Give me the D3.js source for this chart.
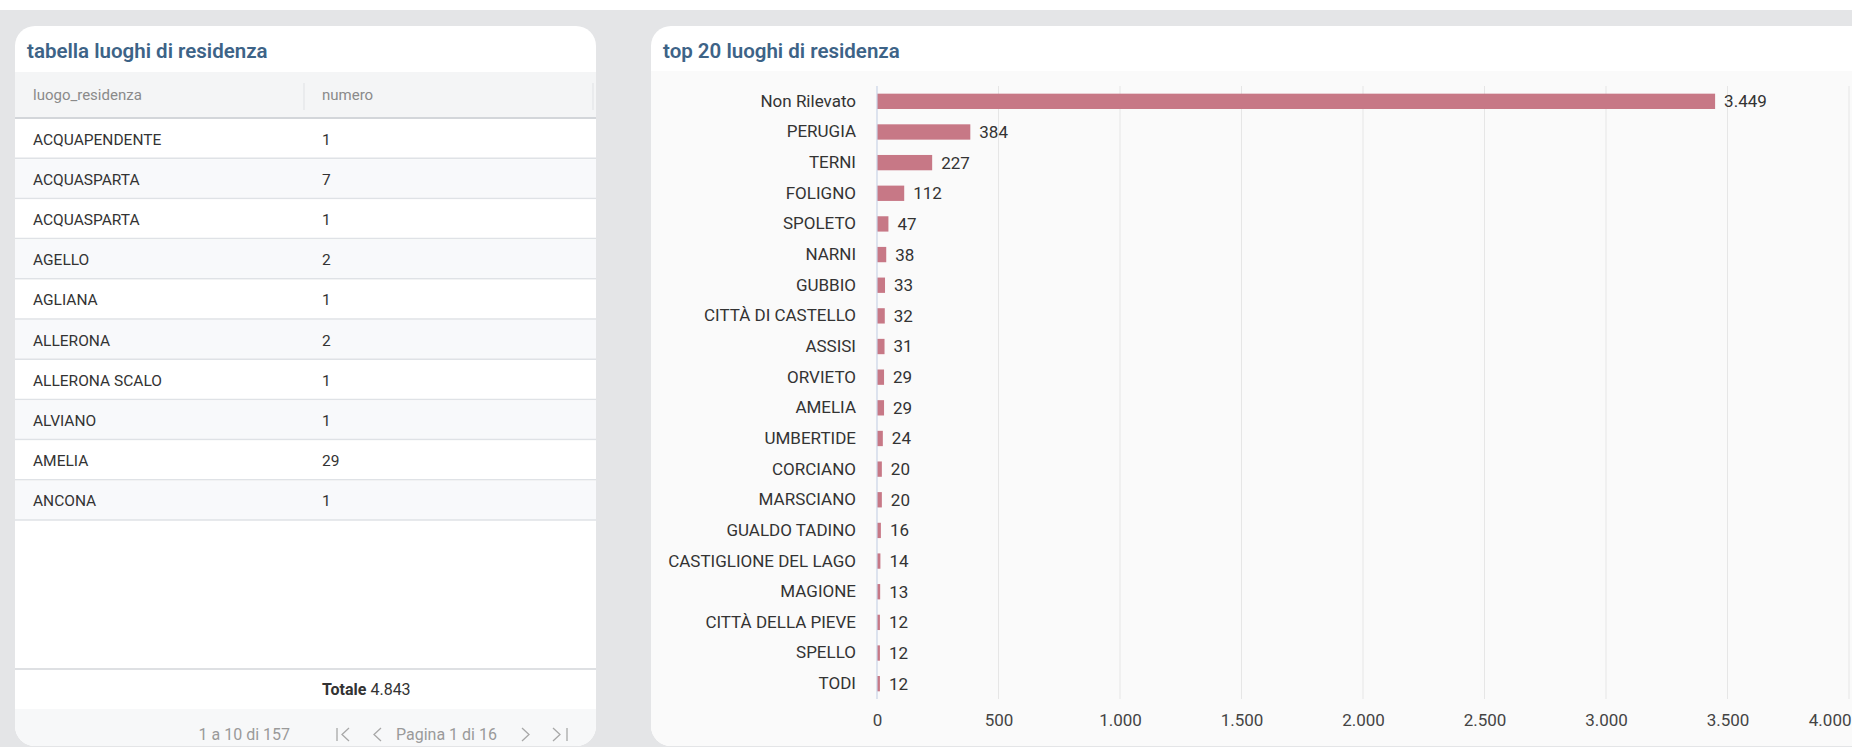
<!DOCTYPE html>
<html>
<head>
<meta charset="utf-8">
<script src="https://cdn.jsdelivr.net/npm/d3@7"></script>
<style>
  html, body { margin: 0; padding: 0; background: #ffffff; }
  svg { display: block; font-family: Roboto, "Noto Sans", sans-serif; }
</style>
</head>
<body>
<svg id="dash" width="1852" height="747"></svg>
<script>
// ---- table: luoghi di residenza (page 1) ----
const tableNames = ["ACQUAPENDENTE", "ACQUASPARTA", "ACQUASPARTA", "AGELLO", "AGLIANA",
  "ALLERONA", "ALLERONA SCALO", "ALVIANO", "AMELIA", "ANCONA"];
const tableValues = [1, 7, 1, 2, 1, 2, 1, 1, 29, 1];
const tableColumns = ["luogo_residenza", "numero"];
const tableTotal = 4843;
const pagerRange = "1 a 10 di 157";
const pagerPage = "Pagina 1 di 16";

// ---- bar chart: top 20 luoghi di residenza ----
const categories = ["Non Rilevato", "PERUGIA", "TERNI", "FOLIGNO", "SPOLETO", "NARNI", "GUBBIO",
  "CITTÀ DI CASTELLO", "ASSISI", "ORVIETO", "AMELIA", "UMBERTIDE", "CORCIANO", "MARSCIANO",
  "GUALDO TADINO", "CASTIGLIONE DEL LAGO", "MAGIONE", "CITTÀ DELLA PIEVE", "SPELLO", "TODI"];
const values = [3449, 384, 227, 112, 47, 38, 33, 32, 31, 29, 29, 24, 20, 20, 16, 14, 13, 12, 12, 12];
const xTicks = [0, 500, 1000, 1500, 2000, 2500, 3000, 3500, 4000];

const it = d3.formatLocale({ decimal: ",", thousands: ".", grouping: [3], currency: ["€", ""] });
const fmt = it.format(",d");

const svg = d3.select("#dash");
const W = 1852, H = 747;

// page background
svg.append("rect").attr("x", 0).attr("y", 0).attr("width", W).attr("height", H).attr("fill", "#ffffff");
svg.append("rect").attr("x", 0).attr("y", 10).attr("width", W).attr("height", H - 10).attr("fill", "#e4e5e7");

// rounded card helper
function card(x, y, w, h, r) {
  return svg.append("rect").attr("x", x).attr("y", y).attr("width", w).attr("height", h)
    .attr("rx", r).attr("ry", r).attr("fill", "#ffffff");
}

// ================= left card: table =================
const L = { x: 15, y: 26, w: 581, h: 720 };
card(L.x, L.y, L.w, L.h, 20);

svg.append("text").attr("x", 27).attr("y", 51).attr("dy", "0.35em")
  .attr("font-size", 20.5).attr("font-weight", 600).attr("fill", "#3d6387")
  .text("tabella luoghi di residenza");

const colX = [33, 322];
const headTop = 72, headBottom = 118, rowH = 40.2;

svg.append("rect").attr("x", L.x).attr("y", headTop).attr("width", L.w).attr("height", headBottom - headTop)
  .attr("fill", "#f4f5f6");
svg.selectAll("text.head").data(tableColumns).join("text").attr("class", "head")
  .attr("x", (d, i) => colX[i]).attr("y", 95).attr("dy", "0.35em")
  .attr("font-size", 15).attr("fill", "#8a8a8a").text(d => d);
svg.selectAll("line.colsep").data([304, 593]).join("line").attr("class", "colsep")
  .attr("x1", d => d).attr("x2", d => d).attr("y1", 83).attr("y2", 110)
  .attr("stroke", "#dfe1e4").attr("stroke-width", 1);
svg.append("line").attr("x1", L.x).attr("x2", L.x + L.w).attr("y1", headBottom).attr("y2", headBottom)
  .attr("stroke", "#d3d6da").attr("stroke-width", 2);

const rows = svg.selectAll("g.row").data(tableNames).join("g").attr("class", "row")
  .attr("transform", (d, i) => `translate(0,${headBottom + i * rowH})`);
rows.append("rect").attr("x", L.x).attr("y", 1).attr("width", L.w).attr("height", rowH - 1)
  .attr("fill", (d, i) => i % 2 ? "#f8f9fb" : "#ffffff");
rows.append("line").attr("x1", L.x).attr("x2", L.x + L.w).attr("y1", rowH).attr("y2", rowH)
  .attr("stroke", "#dfe2e6").attr("stroke-width", 1.5);
rows.append("text").attr("x", colX[0]).attr("y", rowH / 2 + 1).attr("dy", "0.35em")
  .attr("font-size", 15.5).attr("fill", "#333333").text(d => d);
rows.append("text").attr("x", colX[1]).attr("y", rowH / 2 + 1).attr("dy", "0.35em")
  .attr("font-size", 15.5).attr("fill", "#333333").text((d, i) => fmt(tableValues[i]));

// total row
svg.append("line").attr("x1", L.x).attr("x2", L.x + L.w).attr("y1", 669).attr("y2", 669)
  .attr("stroke", "#d3d6da").attr("stroke-width", 1.5);
const tot = svg.append("text").attr("x", colX[1]).attr("y", 689).attr("dy", "0.35em")
  .attr("font-size", 16).attr("fill", "#333333");
tot.append("tspan").attr("font-weight", 700).text("Totale");
tot.append("tspan").text(" " + fmt(tableTotal));

// pager
const clipL = svg.append("clipPath").attr("id", "clipL");
clipL.append("rect").attr("x", L.x).attr("y", L.y).attr("width", L.w).attr("height", L.h)
  .attr("rx", 20).attr("ry", 20);
svg.append("rect").attr("x", L.x).attr("y", 709).attr("width", L.w).attr("height", H - 709)
  .attr("fill", "#f7f8f9").attr("clip-path", "url(#clipL)");
svg.append("text").attr("x", 290).attr("y", 734).attr("dy", "0.35em").attr("text-anchor", "end")
  .attr("font-size", 16).attr("fill", "#9a9a9a").text(pagerRange);
svg.append("text").attr("x", 396).attr("y", 734).attr("dy", "0.35em")
  .attr("font-size", 16).attr("fill", "#9a9a9a").text(pagerPage);
const pagerIcons = [
  "M337,728V741 M349,728L342,734.5L349,741",
  "M381,728L374,734.5L381,741",
  "M522,728L529,734.5L522,741",
  "M553,728L560,734.5L553,741 M567,728V741"
];
svg.selectAll("path.pager").data(pagerIcons).join("path").attr("class", "pager")
  .attr("d", d => d).attr("fill", "none").attr("stroke", "#a8a8a8").attr("stroke-width", 1.3);

// ================= right card: bar chart =================
const R = { x: 651, y: 26, w: 1260, h: 720 };
card(R.x, R.y, R.w, R.h, 20);
const clipR = svg.append("clipPath").attr("id", "clipR");
clipR.append("rect").attr("x", R.x).attr("y", R.y).attr("width", R.w).attr("height", R.h)
  .attr("rx", 20).attr("ry", 20);
svg.append("rect").attr("x", R.x).attr("y", 71).attr("width", R.w).attr("height", H - 71)
  .attr("fill", "#fafafa").attr("clip-path", "url(#clipR)");

svg.append("text").attr("x", 663).attr("y", 51).attr("dy", "0.35em")
  .attr("font-size", 20.5).attr("font-weight", 600).attr("fill", "#3d6387")
  .text("top 20 luoghi di residenza");

const plotTop = 86, plotBottom = 699;
const x = d3.scaleLinear().domain([0, 4000]).range([877, 1849]);
const y = d3.scaleBand().domain(categories).range([plotTop, plotBottom])
  .paddingInner(0.5).paddingOuter(0.25);

// grid
svg.append("g").selectAll("line").data(xTicks.filter(t => t > 0)).join("line")
  .attr("x1", d => x(d)).attr("x2", d => x(d)).attr("y1", plotTop).attr("y2", plotBottom)
  .attr("stroke", "#e6e6e6").attr("stroke-width", 1);

// bottom axis labels (last one kept inside the card edge)
const xAxis = svg.append("g").attr("transform", `translate(0,${plotBottom})`)
  .call(d3.axisBottom(x).tickValues(xTicks).tickFormat(fmt).tickSize(0).tickPadding(15));
xAxis.select(".domain").remove();
xAxis.selectAll("text").attr("font-family", "Roboto, sans-serif").attr("font-size", 17)
  .attr("fill", "#444444");
xAxis.selectAll(".tick").filter(d => d === xTicks[xTicks.length - 1]).select("text")
  .attr("text-anchor", "end").attr("x", 1851 - x(xTicks[xTicks.length - 1]));

// bars
svg.append("g").selectAll("rect").data(categories).join("rect")
  .attr("x", x(0)).attr("y", d => y(d))
  .attr("width", (d, i) => x(values[i]) - x(0)).attr("height", y.bandwidth())
  .attr("fill", "#c77886");

// zero axis line
svg.append("line").attr("x1", x(0)).attr("x2", x(0)).attr("y1", plotTop).attr("y2", plotBottom)
  .attr("stroke", "#c9d3e6").attr("stroke-width", 1.2);

// category labels
const yAxis = svg.append("g").attr("transform", `translate(${x(0)},0)`)
  .call(d3.axisLeft(y).tickSize(0).tickPadding(21));
yAxis.select(".domain").remove();
yAxis.selectAll("text").attr("font-family", "Roboto, sans-serif").attr("font-size", 17)
  .attr("fill", "#333333");

// value labels
svg.append("g").selectAll("text").data(categories).join("text")
  .attr("x", (d, i) => x(values[i]) + 9).attr("y", d => y(d) + y.bandwidth() / 2).attr("dy", "0.35em")
  .attr("font-size", 17).attr("fill", "#333333")
  .text((d, i) => fmt(values[i]));
</script>
</body>
</html>
